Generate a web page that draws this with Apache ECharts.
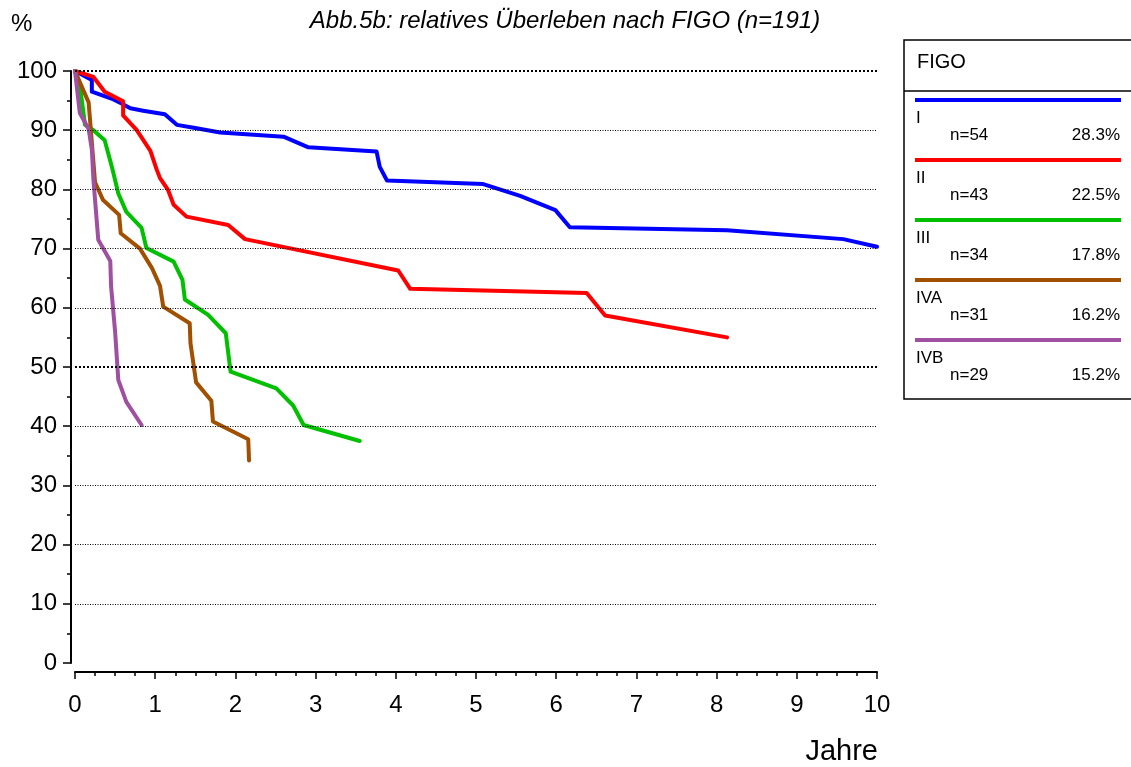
<!DOCTYPE html>
<html><head><meta charset="utf-8">
<script src="https://cdn.jsdelivr.net/npm/echarts@6/dist/echarts.min.js"></script>
<style>html,body{margin:0;padding:0;background:#fff}#c{width:1131px;height:767px}</style>
</head><body><div id="c"></div>
<script>
// ---- data ----
const groupNames = ['I', 'II', 'III', 'IVA', 'IVB'];
const groupN = ['n=54', 'n=43', 'n=34', 'n=31', 'n=29'];
const groupPct = ['28.3%', '22.5%', '17.8%', '16.2%', '15.2%'];
const groupColors = ['#0000ff', '#ff0000', '#00c000', '#a05000', '#a050a0'];

const yearsI = [0, 0.21, 0.21, 0.48, 0.58, 0.69, 0.85, 1.12, 1.27, 1.48, 1.81, 2.60, 2.91, 3.76, 3.80, 3.89, 5.09, 5.55, 5.99, 6.17, 8.13, 9.58, 10.0];
const survI  = [100, 98.5, 96.5, 95.2, 94.5, 93.7, 93.3, 92.7, 90.9, 90.4, 89.6, 88.9, 87.1, 86.4, 83.8, 81.5, 80.9, 78.9, 76.5, 73.6, 73.1, 71.6, 70.3];

const yearsII = [0, 0.23, 0.37, 0.60, 0.60, 0.77, 0.94, 1.02, 1.06, 1.16, 1.23, 1.39, 1.91, 2.12, 4.03, 4.18, 6.38, 6.61, 8.13];
const survII  = [100, 99.0, 96.5, 94.9, 92.5, 90.0, 86.5, 83.3, 81.9, 79.9, 77.4, 75.4, 74.0, 71.6, 66.3, 63.2, 62.5, 58.7, 55.0];

const yearsIII = [0, 0.06, 0.125, 0.23, 0.37, 0.46, 0.54, 0.64, 0.83, 0.89, 1.23, 1.34, 1.37, 1.66, 1.88, 1.94, 2.51, 2.72, 2.85, 3.55];
const survIII  = [100, 97.6, 90.9, 90.0, 88.3, 83.8, 79.3, 76.2, 73.5, 70.1, 67.8, 64.7, 61.4, 58.8, 55.7, 49.2, 46.4, 43.5, 40.2, 37.5];

const yearsIVA = [0, 0.17, 0.25, 0.35, 0.55, 0.57, 0.81, 0.96, 1.06, 1.10, 1.43, 1.44, 1.51, 1.70, 1.72, 2.16, 2.17];
const survIVA  = [100, 94.7, 81.2, 78.2, 75.7, 72.6, 70.0, 66.7, 63.7, 60.2, 57.4, 54.0, 47.4, 44.3, 40.8, 37.8, 34.2];

const yearsIVB = [0, 0.06, 0.17, 0.21, 0.23, 0.29, 0.44, 0.45, 0.50, 0.54, 0.64, 0.83];
const survIVB  = [100, 92.9, 90.2, 86.7, 81.6, 71.5, 67.9, 63.6, 56.0, 47.8, 44.1, 40.2];

const gridValues = [10, 20, 30, 40, 50, 60, 70, 80, 90, 100];
const boldGridValues = [50, 100];

const titleText = 'Abb.5b: relatives Überleben nach FIGO (n=191)';
const yAxisTitle = '%';
const xAxisTitle = 'Jahre';
const legendTitle = 'FIGO';

// ---- build ----
const allYears = [yearsI, yearsII, yearsIII, yearsIVA, yearsIVB];
const allSurv = [survI, survII, survIII, survIVA, survIVB];
const FONT = '"Liberation Sans", Arial, sans-serif';

const series = [{
  type: 'line', data: [], silent: true, z: 1,
  markLine: {
    silent: true, symbol: 'none', animation: false,
    label: { show: false },
    data: gridValues.map(v => {
      const bold = boldGridValues.includes(v);
      return { yAxis: v, lineStyle: { color: '#000', width: bold ? 2 : 1, type: bold ? [2, 2] : [1, 1.5] } };
    })
  }
}];
groupNames.forEach((name, i) => {
  series.push({
    name, type: 'line', z: 3,
    data: allYears[i].map((t, k) => [t, allSurv[i][k]]),
    showSymbol: false, symbol: 'none', smooth: false,
    lineStyle: { color: groupColors[i], width: 4, cap: 'round', join: 'round' },
    itemStyle: { color: groupColors[i] },
    animation: false
  });
});

const graphics = [
  { type: 'text', left: 11, top: 12, style: { text: yAxisTitle, font: '24px ' + FONT, fill: '#000' } },
  { type: 'text', x: 565, y: 21, style: { text: titleText, font: 'italic 24px ' + FONT, fill: '#000', textAlign: 'center', textVerticalAlign: 'middle' } },
  { type: 'text', x: 878, y: 752, style: { text: xAxisTitle, font: '29px ' + FONT, fill: '#000', textAlign: 'right', textVerticalAlign: 'middle' } },
  { type: 'rect', shape: { x: 904, y: 40, width: 240, height: 359 }, style: { fill: 'none', stroke: '#000', lineWidth: 1.5 } },
  { type: 'line', shape: { x1: 904, y1: 91, x2: 1131, y2: 91 }, style: { stroke: '#000', lineWidth: 1.5 } },
  { type: 'text', x: 917, y: 62, style: { text: legendTitle, font: '20px ' + FONT, fill: '#000', textVerticalAlign: 'middle' } }
];
groupNames.forEach((name, i) => {
  const y0 = 100 + i * 60;
  graphics.push(
    { type: 'line', shape: { x1: 915, y1: y0, x2: 1121, y2: y0 }, style: { stroke: groupColors[i], lineWidth: 4 } },
    { type: 'text', x: 916, y: y0 + 18, style: { text: name, font: '17px ' + FONT, fill: '#000', textVerticalAlign: 'middle' } },
    { type: 'text', x: 950, y: y0 + 35, style: { text: groupN[i], font: '17px ' + FONT, fill: '#000', textVerticalAlign: 'middle' } },
    { type: 'text', x: 1120, y: y0 + 35, style: { text: groupPct[i], font: '17px ' + FONT, fill: '#000', textAlign: 'right', textVerticalAlign: 'middle' } }
  );
});

const chart = echarts.init(document.getElementById('c'), null, { renderer: 'canvas' });
chart.setOption({
  backgroundColor: '#fff',
  animation: false,
  grid: { left: 75, right: 254, top: 71, bottom: 104, containLabel: false },
  xAxis: {
    type: 'value', min: 0, max: 10, interval: 1, offset: 9,
    axisLine: { show: true, onZero: false, lineStyle: { color: '#000', width: 2 } },
    axisTick: { show: true, length: 7, lineStyle: { color: '#000', width: 1.5 } },
    minorTick: { show: true, splitNumber: 4, length: 4, lineStyle: { color: '#000', width: 1.5 } },
    axisLabel: { color: '#000', fontSize: 24, fontFamily: FONT, margin: 21 },
    splitLine: { show: false }
  },
  yAxis: {
    type: 'value', min: 0, max: 100, interval: 10, offset: 4,
    axisLine: { show: true, onZero: false, lineStyle: { color: '#000', width: 2 } },
    axisTick: { show: true, length: 8, lineStyle: { color: '#000', width: 1.5 } },
    minorTick: { show: true, splitNumber: 2, length: 4, lineStyle: { color: '#000', width: 1.5 } },
    axisLabel: { color: '#000', fontSize: 24, fontFamily: FONT, margin: 14 },
    splitLine: { show: false }
  },
  series,
  graphic: graphics
});
</script>
</body></html>
